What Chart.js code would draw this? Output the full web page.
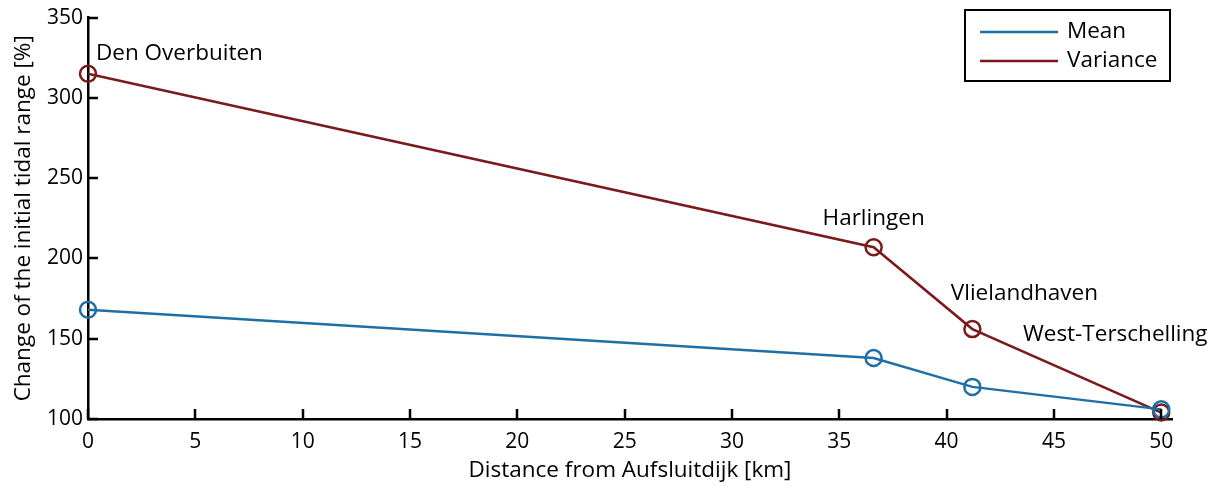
<!DOCTYPE html>
<html>
<head>
<meta charset="utf-8">
<script src="https://cdn.jsdelivr.net/npm/chart.js@4.4.1/dist/chart.umd.min.js"></script>
<style>
  html, body { margin: 0; padding: 0; background: #fff; }
  #wrap { width: 1218px; height: 488px; position: relative; }
</style>
</head>
<body>
<div id="wrap"><canvas id="c" width="1218" height="488"></canvas></div>
<script>
// ---- data ----
const stations = ['Den Overbuiten', 'Harlingen', 'Vlielandhaven', 'West-Terschelling'];
const distanceKm = [0, 36.6, 41.2, 50];
const meanChange = [168, 138, 120, 106];
const varianceChange = [315, 207, 156, 104];
const xTicks = [0, 5, 10, 15, 20, 25, 30, 35, 40, 45, 50];
const yTicks = [100, 150, 200, 250, 300, 350];

const FONT = '"Open Sans", "Noto Sans", sans-serif';
const BLUE = '#1f6fa6';
const RED = '#7a1a1c';
const INK = '#000';
const TXT = 22.5;

function toPts(xs, ys) { return xs.map((x, i) => ({ x: x, y: ys[i] })); }

// label offsets in pixels from the variance point: [dx, dy, align]
const labelOffsets = [[8, -20, 'left'], [0, -29, 'center'], [52, -35, 'center'], [-46, -78, 'center']];

const extras = {
  id: 'extras',
  afterDraw(chart) {
    const ctx = chart.ctx;
    const xs = chart.scales.x, ys = chart.scales.y;
    const area = chart.chartArea;
    ctx.save();
    // inward ticks
    ctx.strokeStyle = '#000';
    ctx.lineWidth = 2.5;
    ctx.beginPath();
    xs.ticks.forEach(t => {
      const px = Math.round(xs.getPixelForValue(t.value));
      ctx.moveTo(px, area.bottom);
      ctx.lineTo(px, area.bottom - 10);
    });
    ys.ticks.forEach(t => {
      const py = Math.round(ys.getPixelForValue(t.value));
      ctx.moveTo(area.left, py);
      ctx.lineTo(area.left + 10, py);
    });
    ctx.stroke();
    // station labels
    ctx.fillStyle = INK;
    ctx.font = TXT + 'px ' + FONT;
    ctx.textBaseline = 'middle';
    stations.forEach((s, i) => {
      const px = xs.getPixelForValue(distanceKm[i]);
      const py = ys.getPixelForValue(varianceChange[i]);
      const o = labelOffsets[i];
      ctx.textAlign = o[2];
      ctx.fillText(s, px + o[0], py + o[1]);
    });
    // legend
    ctx.textAlign = 'left';
    const bx = 965, by = 10, bw = 205, bh = 71;
    ctx.fillStyle = '#fff';
    ctx.fillRect(bx, by, bw, bh);
    ctx.strokeStyle = '#000';
    ctx.lineWidth = 2;
    ctx.strokeRect(bx, by, bw, bh);
    chart.data.datasets.forEach((d, i) => {
      const ly = by + 22 + i * 29;
      ctx.strokeStyle = d.borderColor;
      ctx.lineWidth = 2.5;
      ctx.beginPath();
      ctx.moveTo(980, ly);
      ctx.lineTo(1058, ly);
      ctx.stroke();
      ctx.fillStyle = INK;
      ctx.font = TXT + 'px ' + FONT;
      ctx.fillText(d.label, 1067, ly);
    });
    ctx.restore();
  }
};

new Chart(document.getElementById('c'), {
  type: 'line',
  data: {
    datasets: [
      { label: 'Mean', data: toPts(distanceKm, meanChange), borderColor: BLUE, backgroundColor: 'rgba(0,0,0,0)',
        borderWidth: 2.5, pointRadius: 8, pointBorderWidth: 2.5, pointBorderColor: BLUE, pointBackgroundColor: 'rgba(0,0,0,0)', tension: 0 },
      { label: 'Variance', data: toPts(distanceKm, varianceChange), borderColor: RED, backgroundColor: 'rgba(0,0,0,0)',
        borderWidth: 2.5, pointRadius: 8, pointBorderWidth: 2.5, pointBorderColor: RED, pointBackgroundColor: 'rgba(0,0,0,0)', tension: 0 }
    ]
  },
  options: {
    responsive: false,
    animation: false,
    clip: false,
    layout: { padding: { top: 15, right: 46, left: 0, bottom: 0 } },
    plugins: { legend: { display: false }, tooltip: { enabled: false } },
    scales: {
      x: {
        type: 'linear', min: 0, max: 50.5,
        afterFit(s) { s.height = 69; },
        afterBuildTicks(s) { s.ticks = xTicks.map(v => ({ value: v })); },
        ticks: { includeBounds: false, color: INK, font: { family: FONT, size: 21 }, padding: 10, maxRotation: 0 },
        grid: { display: false, drawTicks: false },
        border: { display: true, color: '#000', width: 2.5 },
        title: { display: true, text: 'Distance from Aufsluitdijk [km]', color: INK, font: { family: FONT, size: TXT }, padding: { top: 0, bottom: 4 } }
      },
      y: {
        type: 'linear', min: 100, max: 350,
        afterFit(s) { s.width = 88; },
        afterBuildTicks(s) { s.ticks = yTicks.map(v => ({ value: v })); },
        ticks: { color: INK, font: { family: FONT, size: 21 }, padding: 5 },
        grid: { display: false, drawTicks: false },
        border: { display: true, color: '#000', width: 2.5 },
        title: { display: true, text: 'Change of the initial tidal range [%]', color: INK, font: { family: FONT, size: TXT }, padding: { top: 10, bottom: 0 } }
      }
    }
  },
  plugins: [extras]
});
</script>
</body>
</html>
